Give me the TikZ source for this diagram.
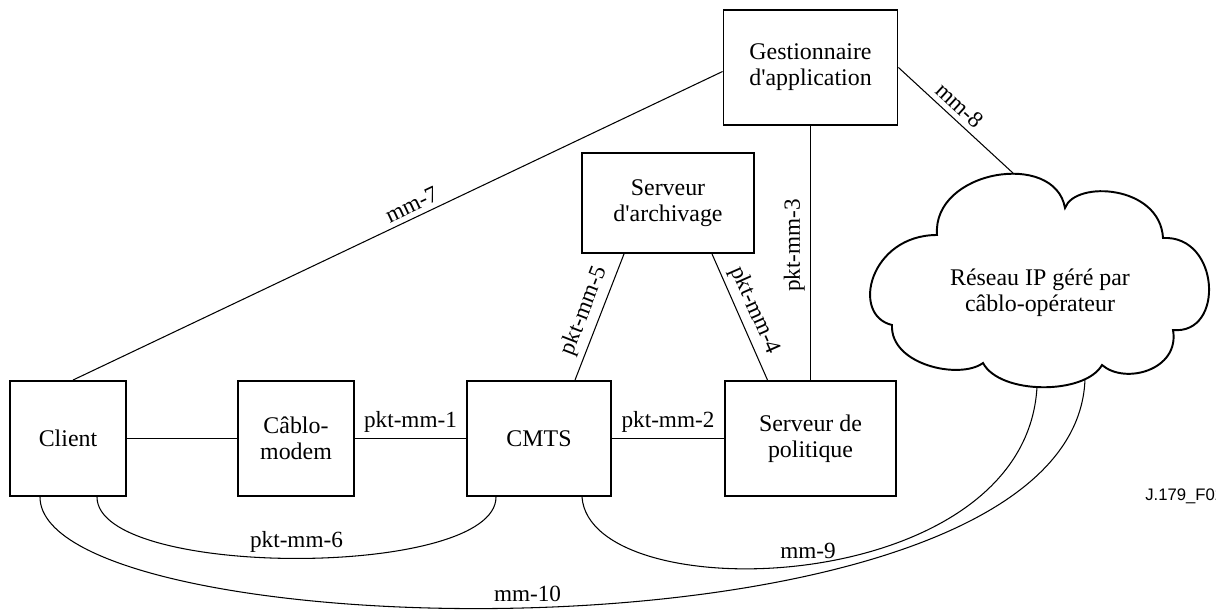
\documentclass[tikz,border=0pt]{standalone}
\usepackage{fontspec}
\setmainfont{Liberation Serif}
\newfontfamily\tagfont{Liberation Sans}
\usetikzlibrary{calc}
\newcommand\diagboxfont{\fontsize{13.6}{14.8}\selectfont}
\newcommand\diaglblfont{\fontsize{13.2}{14}\selectfont}
\begin{document}
\begin{tikzpicture}[x=0.02cm, y=-0.02cm,
  box/.style={draw, line width=1.1pt, align=center, inner sep=0pt, font=\diagboxfont},
  link/.style={line width=0.6pt},
  lbl/.style={font=\diaglblfont, inner sep=3pt}]
\useasboundingbox (0,0) rectangle (1216,615);

% equipment boxes
\node[box, minimum width=2.32cm, minimum height=2.3cm] (client) at (68,438.5) {Client};
\node[box, minimum width=2.32cm, minimum height=2.3cm] (modem) at (296,438.5) {Câblo-\\modem};
\node[box, minimum width=2.88cm, minimum height=2.3cm] (cmts) at (539,438.5) {CMTS};
\node[box, minimum width=3.42cm, minimum height=2.3cm] (politique) at (810.5,438.5) {Serveur de\\politique};
\node[box, minimum width=3.44cm, minimum height=2.0cm] (archivage) at (668,203) {Serveur\\d\textquotesingle archivage};
\node[box, minimum width=3.48cm, minimum height=2.3cm] (gest) at (810.5,67.5) {Gestionnaire\\d\textquotesingle application};

% operator network cloud
\draw[line width=1.1pt]
  (937,235) .. controls (932,170) and (1055,150) .. (1065,208)
            .. controls (1075,180) and (1160,185) .. (1163,238)
            .. controls (1220,235) and (1225,335) .. (1173,330)
            .. controls (1180,370) and (1125,385) .. (1102,365)
            .. controls (1085,395) and (1000,395) .. (983,363)
            .. controls (960,380) and (890,365) .. (892,325)
            .. controls (850,315) and (870,235) .. cycle;
\node[font=\diagboxfont, align=center, inner sep=0pt] (cloud) at (1040,293) {Réseau IP géré par\\câblo-opérateur};
\coordinate (c8) at (1014,174);
\coordinate (c9) at (1037,387);
\coordinate (c10) at (1085,379);

% straight interfaces
\draw[link] (client.east) -- (modem.west);
\draw[link] (modem.east) -- node[lbl, above] {pkt-mm-1} (cmts.west);
\draw[link] (cmts.east) -- node[lbl, above] {pkt-mm-2} (politique.west);
\draw[link] ($(client.north)+(5,0)$) -- node[lbl, sloped, above, pos=0.53] {mm-7} ($(gest.west)+(0,4)$);
\draw[link] (gest.south) -- node[lbl, rotate=90, anchor=south, pos=0.47] {pkt-mm-3} (gest.south |- politique.north);
\draw[link] (gest.east) -- node[lbl, sloped, above, pos=0.45] {mm-8} (c8);
\draw[link] ($(cmts.north)+(36,0)$) -- node[lbl, sloped, above] {pkt-mm-5} ($(archivage.south)+(-44,0)$);
\draw[link] ($(archivage.south)+(44,0)$) -- node[lbl, sloped, above] {pkt-mm-4} ($(politique.north)+(-43,0)$);

% curved interfaces below the chain
\draw[link] ($(client.south)+(29,0)$) .. controls +(0,82) and +(0,82) .. ($(cmts.south)+(-43,0)$)
  node[lbl, above, pos=0.5] {pkt-mm-6};
\draw[link] ($(cmts.south)+(43,0)$) .. controls +(8,114) and +(-12,213) .. (c9)
  node[lbl, above, pos=0.5] {mm-9};
\draw[link] ($(client.south)+(-28,0)$) .. controls +(0,154) and +(-10,296) .. (c10)
  node[lbl, above, pos=0.48] {mm-10};

% figure tag
\node[font=\tagfont\fontsize{9.5}{11}\selectfont, anchor=base west, inner sep=0pt] (tag) at (1145,500) {J.179\_F02};
\end{tikzpicture}
\end{document}
